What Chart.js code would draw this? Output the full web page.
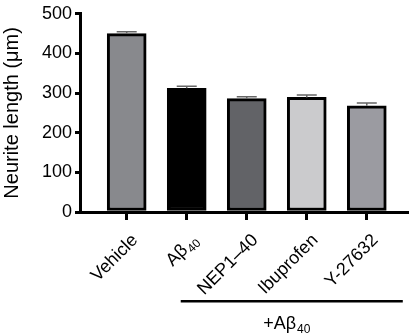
<!DOCTYPE html>
<html>
<head>
<meta charset="utf-8">
<script src="https://cdn.jsdelivr.net/npm/chart.js@4"></script>
<style>
  html, body { margin: 0; padding: 0; background: #fff; }
  canvas { display: block; }
</style>
</head>
<body>
<canvas id="c" width="413" height="335"></canvas>
<script>
// Neurite length per treatment group (mean ± SEM, µm)
const categories = ['Vehicle', 'Aβ40', 'NEP1–40', 'Ibuprofen', 'Y-27632'];
const values = [450, 312, 286, 289, 268];
const errors = [5, 5, 5, 6, 7];
const barColors = ['#88898d', '#000000', '#626367', '#cbcbcd', '#9b9ba1'];
const yTicks = [0, 100, 200, 300, 400, 500];
const groupLabel = '+Aβ40';
const groupFirst = 1;
const groupLast = 4;

const FONT = "'Liberation Sans', Arial, sans-serif";

// split a label like "Aβ40" into main text and subscript digits
function splitSub(label) {
  const m = label.match(/^(.*β)(\d+)$/);
  return m ? [m[1], m[2]] : [label, ''];
}

function drawSubText(ctx, label, size, align) {
  const [main, sub] = splitSub(label);
  const subSize = Math.round(size * 0.65);
  ctx.font = size + 'px ' + FONT;
  const wMain = ctx.measureText(main).width;
  ctx.font = subSize + 'px ' + FONT;
  const wSub = sub ? ctx.measureText(sub).width + 1 : 0;
  const total = wMain + wSub;
  let x0 = align === 'right' ? -total : (align === 'center' ? -total / 2 : 0);
  ctx.textAlign = 'left';
  ctx.textBaseline = 'alphabetic';
  ctx.font = size + 'px ' + FONT;
  ctx.fillText(main, x0, 0);
  if (sub) {
    ctx.font = subSize + 'px ' + FONT;
    ctx.fillText(sub, x0 + wMain + 1, size * 0.22);
  }
}

const errorBars = {
  id: 'errorBars',
  afterDatasetsDraw(chart) {
    const { ctx, scales: { x, y } } = chart;
    ctx.save();
    ctx.strokeStyle = '#666';
    ctx.lineWidth = 1.5;
    values.forEach((v, i) => {
      const px = x.getPixelForValue(i);
      const top = y.getPixelForValue(v + errors[i]);
      const base = y.getPixelForValue(v);
      ctx.beginPath();
      ctx.moveTo(px, base);
      ctx.lineTo(px, top);
      ctx.moveTo(px - 10, top);
      ctx.lineTo(px + 10, top);
      ctx.stroke();
    });
    ctx.restore();
  }
};

const categoryLabels = {
  id: 'categoryLabels',
  afterDraw(chart) {
    const { ctx, scales: { x }, chartArea } = chart;
    ctx.save();
    ctx.fillStyle = '#000';
    categories.forEach((label, i) => {
      const px = x.getPixelForValue(i);
      ctx.save();
      ctx.translate(px + 12, chartArea.bottom + 29);
      ctx.rotate(-Math.PI / 4);
      drawSubText(ctx, label, 18, 'right');
      ctx.restore();
    });
    // bracket line and label for the Aβ40-treated groups
    const left = x.getPixelForValue(groupFirst) - 6;
    const right = x.getPixelForValue(groupLast) + 36;
    const ly = chartArea.bottom + 89;
    ctx.fillRect(left, ly - 1, right - left, 2.5);
    ctx.translate((left + right) / 2 - 5, ly + 28);
    drawSubText(ctx, groupLabel, 18, 'center');
    ctx.restore();
  }
};

new Chart(document.getElementById('c'), {
  type: 'bar',
  data: {
    datasets: [{
      data: values.map((v, i) => ({ x: i, y: v })),
      backgroundColor: barColors,
      borderColor: '#000',
      borderWidth: 3,
      borderSkipped: false,
      barThickness: 39
    }]
  },
  options: {
    responsive: false,
    animation: false,
    devicePixelRatio: 1,
    layout: { padding: { top: 12, right: 6, left: 0, bottom: 0 } },
    plugins: { legend: { display: false }, tooltip: { enabled: false } },
    scales: {
      x: {
        type: 'linear',
        offset: false,
        min: -0.778,
        max: 4.67,
        afterBuildTicks(s) { s.ticks = categories.map((_, i) => ({ value: i })); },
        afterFit(s) { s.height = 123; },
        ticks: { display: false },
        grid: { offset: false, drawOnChartArea: false, tickLength: 8, lineWidth: 3, color: '#000' },
        border: { width: 3, color: '#000' }
      },
      y: {
        min: 0,
        max: 500,
        afterBuildTicks(s) { s.ticks = yTicks.map(v => ({ value: v })); },
        afterFit(s) { s.width = 80; },
        ticks: { color: '#000', font: { size: 18, family: FONT }, padding: 3 },
        grid: { drawOnChartArea: false, tickLength: 5, lineWidth: 3, color: '#000' },
        border: { width: 3, color: '#000' },
        title: {
          display: true,
          text: 'Neurite length (μm)',
          color: '#000',
          font: { size: 20, family: FONT },
          padding: { top: 0, bottom: 0 }
        }
      }
    }
  },
  plugins: [errorBars, categoryLabels]
});
</script>
</body>
</html>
